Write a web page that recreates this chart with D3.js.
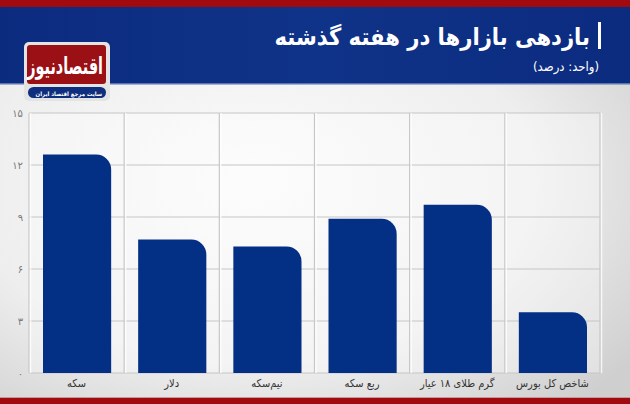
<!DOCTYPE html>
<html><head><meta charset="utf-8">
<script src="https://cdn.jsdelivr.net/npm/d3@7"></script>
<style>
html,body{margin:0;padding:0;overflow:hidden;background:#e6e6e6}
svg{display:block}
</style></head><body>
<script>
const categories = ["سکه", "دلار", "نیم‌سکه", "ربع سکه", "گرم طلای ۱۸ عیار", "شاخص کل بورس"];
const values = [12.6, 7.7, 7.3, 8.9, 9.7, 3.5];
const yTicks = [0, 3, 6, 9, 12, 15];
const yTickLabels = ["۰", "۳", "۶", "۹", "۱۲", "۱۵"];
const title = "بازدهی بازارها در هفته گذشته";
const subtitle = "(واحد: درصد)";
const logoText = "اقتصادنیوز";
const logoTagline = "سایت مرجع اقتصاد ایران";

(function(){
const W = 630, H = 404;
const svg = d3.select("body").append("svg").attr("width", W).attr("height", H);
const defs = svg.append("defs");
const FONT = "DejaVu Sans, Noto Sans, sans-serif";
const FONTC = "DejaVu Sans Condensed, DejaVu Sans, sans-serif";

const bg = defs.append("radialGradient").attr("id","bg").attr("cx","0.4").attr("cy","0.45").attr("r","0.75");
bg.append("stop").attr("offset","0").attr("stop-color","#fbfbfb");
bg.append("stop").attr("offset","0.6").attr("stop-color","#eeeeee");
bg.append("stop").attr("offset","1").attr("stop-color","#cfcfcf");
svg.append("rect").attr("width",W).attr("height",H).attr("fill","url(#bg)");

const hg = defs.append("linearGradient").attr("id","hg").attr("x1","0").attr("x2","1");
hg.append("stop").attr("offset","0").attr("stop-color","#0b2b7f");
hg.append("stop").attr("offset","0.5").attr("stop-color","#0f3388");
hg.append("stop").attr("offset","1").attr("stop-color","#0b2b7f");
svg.append("rect").attr("x",0).attr("y",0).attr("width",W).attr("height",84).attr("fill","url(#hg)");
svg.append("rect").attr("x",0).attr("y",83).attr("width",W).attr("height",1.5).attr("fill","#5b73b0");
svg.append("rect").attr("x",0).attr("y",0).attr("width",W).attr("height",7).attr("fill","#a10b10");
svg.append("rect").attr("x",0).attr("y",398).attr("width",W).attr("height",6).attr("fill","#a10b10");
svg.append("rect").attr("x",0).attr("y",397).attr("width",W).attr("height",1).attr("fill","#c9989a");

svg.append("rect").attr("x",598).attr("y",22).attr("width",3).attr("height",27).attr("fill","#fff");
svg.append("text").attr("x",590).attr("y",45).attr("text-anchor","start").attr("direction","rtl")
  .attr("font-family",FONTC).attr("font-weight","bold").attr("font-size",23.5).attr("fill","#fff").text(title);
svg.append("text").attr("x",599).attr("y",71).attr("text-anchor","start").attr("direction","rtl")
  .attr("font-family",FONTC).attr("font-size",13).attr("fill","#fff").text(subtitle);

const logo = svg.append("g");
logo.append("rect").attr("x",24).attr("y",42).attr("width",86).attr("height",59).attr("rx",5).attr("fill","#e4e4e4");
logo.append("rect").attr("x",27).attr("y",45).attr("width",79).attr("height",39).attr("rx",3).attr("fill","#9a1015");
logo.append("text").attr("transform","translate(103,74) scale(1,1.45)").attr("text-anchor","start").attr("direction","rtl")
  .attr("font-family",FONTC).attr("font-weight","bold").attr("font-size",16).attr("fill","#fff").text(logoText);
logo.append("rect").attr("x",28).attr("y",87).attr("width",78).attr("height",11).attr("rx",5.5).attr("fill","#0f2f7e");
logo.append("text").attr("x",102).attr("y",95.5).attr("text-anchor","start").attr("direction","rtl")
  .attr("font-family",FONTC).attr("font-weight","bold").attr("font-size",6).attr("fill","#fff").text(logoTagline);

const pL = 29, pR = 600, pT = 113, pB = 373;
const x = d3.scaleBand().domain(categories).range([pL, pR]).paddingInner(0).paddingOuter(0);
const y = d3.scaleLinear().domain([0, 15]).range([pB, pT]);

svg.append("rect").attr("x",pL).attr("y",pT).attr("width",pR-pL).attr("height",pB-pT)
  .attr("fill","#ffffff").attr("opacity",0.35);

svg.append("g").selectAll("line").data(yTicks).join("line")
  .attr("x1",pL).attr("x2",pR).attr("y1",d=>y(d)).attr("y2",d=>y(d))
  .attr("stroke","#c6c6c6").attr("stroke-width",1.2);
const bounds = categories.map(c=>x(c)).concat([pR]);
svg.append("g").selectAll("line").data(bounds).join("line")
  .attr("x1",d=>d).attr("x2",d=>d).attr("y1",pT).attr("y2",pB)
  .attr("stroke","#c6c6c6").attr("stroke-width",1.2);
svg.append("g").selectAll("line").data(bounds).join("line")
  .attr("x1",d=>d+1.5).attr("x2",d=>d+1.5).attr("y1",pT).attr("y2",pB)
  .attr("stroke","#ffffff").attr("stroke-width",1.5).attr("opacity",0.8);

svg.append("g").selectAll("text").data(yTicks).join("text")
  .attr("x",23).attr("y",d=>y(d)+4).attr("text-anchor","end")
  .attr("font-family",FONT).attr("font-size",10).attr("fill","#7a7a7a")
  .text((d,i)=>yTickLabels[i]);

const inL = 14, inR = 13, r = 15;
function barPath(c, v){
  const x0 = x(c) + inL, x1 = x(c) + x.bandwidth() - inR;
  const y0 = y(v), y1 = y(0);
  const rr = Math.min(r, y1 - y0);
  return `M${x0},${y1}V${y0}H${x1-rr}A${rr},${rr} 0 0 1 ${x1},${y0+rr}V${y1}Z`;
}
svg.append("g").selectAll("path").data(categories).join("path")
  .attr("d",(c,i)=>barPath(c, values[i])).attr("fill","#032f84");

const xl = svg.append("g").selectAll("text").data(categories).join("text")
  .attr("y",387).attr("direction","rtl").attr("text-anchor","start")
  .attr("font-family",FONTC).attr("font-size",11).attr("fill","#333").text(c=>c);
xl.each(function(c){
  const w = this.getComputedTextLength();
  d3.select(this).attr("x", x(c) + x.bandwidth()/2 + w/2);
});
})();
</script>
</body></html>
